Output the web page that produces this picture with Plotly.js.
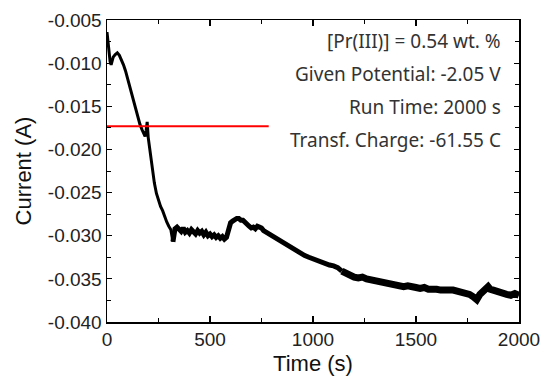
<!DOCTYPE html>
<html>
<head>
<meta charset="utf-8">
<script src="https://cdn.plot.ly/plotly-3.0.1.min.js"></script>
<style>html,body{margin:0;padding:0;background:#fff;}#chart{width:543px;height:385px;}</style>
</head>
<body>
<div id="chart"></div>
<script>
var timeS = [0,3,6,10,15,20,25,30,40,50,60,70,80,90,100,110,120,130,140,150,160,170,180,185,190,195,200,205,210,215,220,230,240,250,260,270,280,290,300,310,315,320,325,330,340,350,360,370,380,390,400,410,420,430,440,450,460,470,480,490,500,510,520,530,540,550,560,570,580,590,600,610,620,630,640,650,660,670,680,690,700,710,720,730,740,750,760,780,800,820,840,860,880,900,920,940,960,980,1000,1020,1040,1060,1080,1100,1120,1140,1160,1180,1200,1220,1240,1260,1280,1300,1320,1340,1360,1380,1400,1420,1440,1460,1480,1500,1520,1540,1560,1580,1600,1620,1640,1660,1680,1700,1720,1740,1760,1780,1795,1810,1830,1850,1860,1880,1900,1920,1940,1960,1980,2000];
var currentA = [-0.0064,-0.0072,-0.0082,-0.0090,-0.0098,-0.0102,-0.0097,-0.0093,-0.0090,-0.0088,-0.0091,-0.0096,-0.0102,-0.0109,-0.0118,-0.0126,-0.0133,-0.0142,-0.0154,-0.0163,-0.0171,-0.0177,-0.0182,-0.0185,-0.0178,-0.0168,-0.0186,-0.0196,-0.0202,-0.0212,-0.0222,-0.0239,-0.0251,-0.0259,-0.0266,-0.0271,-0.0278,-0.0284,-0.0289,-0.0293,-0.0300,-0.0307,-0.0299,-0.0292,-0.0290,-0.0293,-0.0295,-0.0291,-0.0296,-0.0294,-0.0297,-0.0293,-0.0296,-0.0298,-0.0294,-0.0297,-0.0295,-0.0299,-0.0296,-0.0300,-0.0298,-0.0301,-0.0299,-0.0302,-0.0300,-0.0303,-0.0301,-0.0304,-0.0302,-0.0292,-0.0285,-0.0283,-0.0281,-0.0280,-0.0280,-0.0282,-0.0282,-0.0285,-0.0287,-0.0289,-0.0291,-0.0290,-0.0292,-0.0289,-0.0290,-0.0291,-0.0294,-0.0297,-0.0299,-0.0303,-0.0306,-0.0309,-0.0312,-0.0315,-0.0318,-0.0321,-0.0323,-0.0325,-0.0327,-0.0329,-0.0331,-0.0332,-0.0334,-0.0335,-0.0337,-0.0341,-0.0344,-0.0347,-0.0348,-0.0349,-0.0348,-0.0350,-0.0351,-0.0352,-0.0354,-0.0353,-0.0355,-0.0356,-0.0357,-0.0358,-0.0359,-0.0358,-0.0360,-0.0360,-0.0361,-0.0360,-0.0362,-0.0361,-0.0362,-0.0363,-0.0362,-0.0363,-0.0363,-0.0364,-0.0365,-0.0366,-0.0368,-0.0371,-0.0374,-0.0368,-0.0363,-0.0359,-0.0362,-0.0364,-0.0365,-0.0366,-0.0368,-0.0369,-0.0367,-0.0369];
var refLineX = [0, 785];
var refLineY = [-0.0173, -0.0173];
var xTickVals = [0,500,1000,1500,2000];
var xTickText = ['0','500','1000','1500','2000'];
var yTickVals = [-0.040,-0.035,-0.030,-0.025,-0.020,-0.015,-0.010,-0.005];
var yTickText = ['-0.040','-0.035','-0.030','-0.025','-0.020','-0.015','-0.010','-0.005'];
var infoLines = ['[Pr(III)] = 0.54 wt. %','Given Potential: -2.05 V','Run Time: 2000 s','Transf. Charge: -61.55 C'];
var infoY = [0.930, 0.821, 0.712, 0.603];

// the recorded band gets thicker (noisier) with time: draw it in overlapping segments
var segBounds = [[0, 320, 3], [320, 1140, 5], [1140, 2000, 7]];
var traces = segBounds.map(function(s){
  var xs = [], ys = [];
  for (var i = 0; i < timeS.length; i++) {
    if (timeS[i] >= s[0] && timeS[i] <= s[1]) { xs.push(timeS[i]); ys.push(currentA[i]); }
  }
  return {x: xs, y: ys, mode: 'lines', line: {color: '#000', width: s[2], shape: 'linear'}, hoverinfo: 'none'};
});
traces.push({x: refLineX, y: refLineY, mode: 'lines', line: {color: '#ff0000', width: 2}, hoverinfo: 'none'});

var annotations = infoLines.map(function(t, i){
  return {text: t, xref: 'paper', yref: 'paper', x: 0.961, y: infoY[i], xanchor: 'right', yanchor: 'middle', showarrow: false,
    font: {family: 'Noto Sans, Open Sans, sans-serif', size: 19, color: '#333'}};
});

var layout = {
  width: 543, height: 385,
  margin: {l: 107, r: 24, t: 20, b: 63, pad: 0},
  paper_bgcolor: '#fff', plot_bgcolor: '#fff',
  showlegend: false,
  xaxis: {range: [0, 2000], tickvals: xTickVals, ticktext: xTickText, ticks: 'inside', ticklen: 6, tickwidth: 1.2, tickcolor: '#000',
    showline: true, linecolor: '#000', linewidth: 1.5, mirror: 'ticks', showgrid: false, zeroline: false,
    minor: {dtick: 250, tick0: 0, ticks: 'inside', ticklen: 4, tickwidth: 1, tickcolor: '#000', showgrid: false},
    tickfont: {family: 'Liberation Sans, Arial, sans-serif', size: 19, color: '#222'},
    title: {text: 'Time (s)', font: {family: 'Liberation Sans, Arial, sans-serif', size: 22, color: '#111'}, standoff: 6}},
  yaxis: {range: [-0.040, -0.005], tickvals: yTickVals, ticktext: yTickText, ticks: 'inside', ticklen: 5, tickwidth: 1.2, tickcolor: '#000',
    showline: true, linecolor: '#000', linewidth: 1.5, mirror: 'ticks', showgrid: false, zeroline: false,
    minor: {dtick: 0.0025, tick0: -0.040, ticks: 'inside', ticklen: 4, tickwidth: 1, tickcolor: '#000', showgrid: false},
    tickfont: {family: 'Liberation Sans, Arial, sans-serif', size: 19, color: '#222'},
    title: {text: 'Current (A)', font: {family: 'Liberation Sans, Arial, sans-serif', size: 22, color: '#111'}, standoff: 10}},
  annotations: annotations
};

Plotly.newPlot('chart', traces, layout, {displayModeBar: false, staticPlot: true});
</script>
</body>
</html>
